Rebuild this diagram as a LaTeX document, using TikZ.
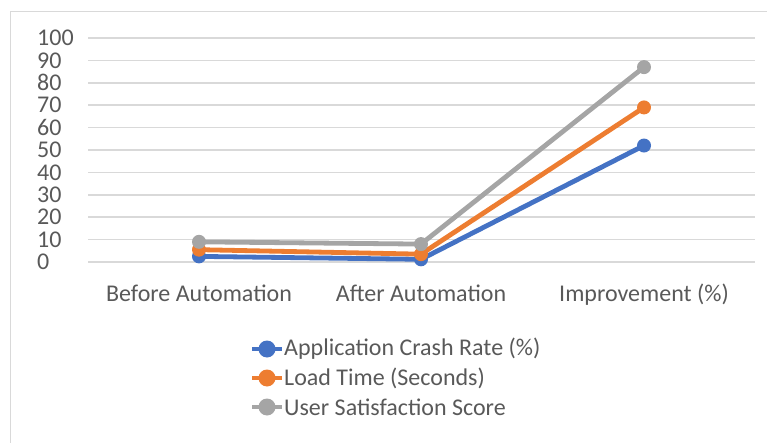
\documentclass[tikz,border=0pt]{standalone}
\usepackage{fontspec}
\setmainfont{Carlito}
\definecolor{crash}{HTML}{4472C4}
\definecolor{load}{HTML}{ED7D31}
\definecolor{score}{HTML}{A5A5A5}
\definecolor{gridgray}{HTML}{D9D9D9}
\definecolor{txtgray}{HTML}{595959}
\begin{document}
\begin{tikzpicture}[x=1pt,y=-1pt,
  gridline/.style={gridgray,line width=1.5pt},
  series/.style={line width=4.8pt,line join=round},
  dot/.style={circle,fill,inner sep=0pt,minimum size=14pt},
  lbl/.style={text=txtgray,font=\fontsize{24}{29}\selectfont,inner sep=0pt}]
\useasboundingbox (0,0) rectangle (767,443);
\draw[gridgray,line width=1pt] (10,443) -- (10,12) -- (767,12);
% value axis and grid
\foreach \v in {0,10,...,100} {
  \draw[gridline] (88,262-2.24*\v) -- (755,262-2.24*\v);
  \node[lbl,anchor=west] (tick\v) at (37,262-2.24*\v) {\v};
}
% categories
\node[lbl,anchor=base] (before) at (199,301) {Before Automation};
\node[lbl,anchor=base] (after)  at (421,301) {After Automation};
\node[lbl,anchor=base] (gain)   at (644,301) {Improvement (\%)};
% series
\foreach \name/\a/\b/\c in {crash/2.5/1.2/52, load/5.5/3.5/69, score/9/8/87} {
  \coordinate (\name1) at (199,262-2.24*\a);
  \coordinate (\name2) at (421,262-2.24*\b);
  \coordinate (\name3) at (644,262-2.24*\c);
  \draw[series,\name] (\name1) -- (\name2) -- (\name3);
  \foreach \i in {1,2,3}
    \node[dot,\name] (\name dot\i) at (\name\i) {};
}
% legend
\node[lbl,anchor=west] (keycrash) at (284,349) {Application Crash Rate (\%)};
\node[lbl,anchor=west] (keyload)  at (284,378) {Load Time (Seconds)};
\node[lbl,anchor=west] (keyscore) at (284,407) {User Satisfaction Score};
\foreach \name in {crash,load,score} {
  \draw[series,\name] ([xshift=-32pt]key\name.west) -- ([xshift=-2pt]key\name.west);
  \node[dot,\name,minimum size=17pt] (mark\name) at ([xshift=-17pt]key\name.west) {};
}
\end{tikzpicture}
\end{document}
